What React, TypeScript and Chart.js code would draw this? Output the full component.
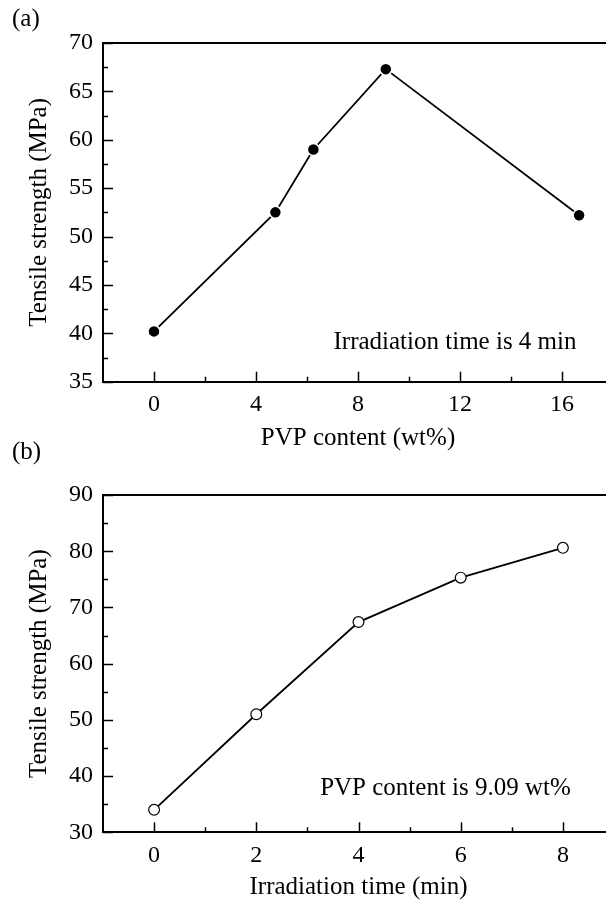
import React, { useEffect, useRef } from "react";
import { Chart, registerables } from "chart.js";

Chart.register(...registerables);

// Panel (a): tensile strength vs PVP content (irradiation 4 min)
const pvpContent = [0, 4.76, 6.25, 9.09, 16.67];
const strengthByPvp = [40.2, 52.5, 59.0, 67.3, 52.2];
// Panel (b): tensile strength vs irradiation time (PVP 9.09 wt%)
const irradiationTime = [0, 2, 4, 6, 8];
const strengthByTime = [34.0, 51.0, 67.4, 75.3, 80.6];

const xMajorA = [0, 4, 8, 12, 16];
const xMinorA = [2, 6, 10, 14];
const yMajorA = [35, 40, 45, 50, 55, 60, 65, 70];
const yMinorA = [37.5, 42.5, 47.5, 52.5, 57.5, 62.5, 67.5];

const xMajorB = [0, 2, 4, 6, 8];
const xMinorB = [1, 3, 5, 7];
const yMajorB = [30, 40, 50, 60, 70, 80, 90];
const yMinorB = [35, 45, 55, 65, 75, 85];

const FONT = '"Liberation Serif", "Times New Roman", serif';

type Panel = {
  xs: number[];
  ys: number[];
  xMin: number;
  xMax: number;
  yMin: number;
  yMax: number;
  xMajor: number[];
  xMinor: number[];
  yMajor: number[];
  yMinor: number[];
  xTitle: string;
  note: string;
  label: string;
  filled: boolean;
  width: number;
  height: number;
  plotTop: number;
  plotBottom: number;
  noteX: number;
  noteY: number;
  labelY: number;
  xTitlePad: number;
};

const framePlugin = {
  id: "frame",
  afterDraw(chart: any, _args: any, opts: any) {
    const { ctx, chartArea: a, scales } = chart;
    const xs = scales.x;
    const ys = scales.y;
    ctx.save();
    ctx.strokeStyle = "#000";
    ctx.lineWidth = 2;
    ctx.beginPath();
    ctx.moveTo(a.left - 1, a.top);
    ctx.lineTo(a.right + 2, a.top);
    ctx.stroke();

    ctx.lineWidth = 1.5;
    const xTick = (vals: number[], len: number) => {
      vals.forEach((v) => {
        const px = Math.round(xs.getPixelForValue(v)) + 0.5;
        ctx.beginPath();
        ctx.moveTo(px, a.bottom);
        ctx.lineTo(px, a.bottom - len);
        ctx.stroke();
      });
    };
    const yTick = (vals: number[], len: number) => {
      vals.forEach((v) => {
        const py = Math.round(ys.getPixelForValue(v)) + 0.5;
        ctx.beginPath();
        ctx.moveTo(a.left, py);
        ctx.lineTo(a.left + len, py);
        ctx.stroke();
      });
    };
    xTick(opts.xMajor, 10);
    xTick(opts.xMinor, 5);
    yTick(opts.yMajor, 10);
    yTick(opts.yMinor, 5);

    ctx.fillStyle = "#000";
    ctx.font = `25px ${FONT}`;
    ctx.textBaseline = "alphabetic";
    ctx.textAlign = "center";
    ctx.fillText(opts.note, opts.noteX, opts.noteY);
    ctx.textAlign = "left";
    ctx.fillText(opts.label, 12, opts.labelY);
    ctx.restore();
  },
};

function PanelChart({ p, top }: { p: Panel; top: number }) {
  const ref = useRef<HTMLCanvasElement | null>(null);
  useEffect(() => {
    if (!ref.current) return;
    const chart = new Chart(ref.current, {
      type: "line",
      data: {
        datasets: [
          {
            data: p.xs.map((x, i) => ({ x, y: p.ys[i] })),
            borderColor: "#000",
            borderWidth: 1.8,
            pointRadius: p.filled ? 6 : 5.4,
            pointBorderWidth: p.filled ? 1.5 : 1.2,
            pointBackgroundColor: p.filled ? "#000" : "#fff",
            pointBorderColor: p.filled ? "#fff" : "#000",
            tension: 0,
            fill: false,
          },
        ],
      },
      options: {
        responsive: false,
        maintainAspectRatio: false,
        animation: false,
        layout: {
          autoPadding: false,
          padding: { top: p.plotTop, left: 0, right: 0, bottom: 0 },
        },
        plugins: {
          legend: { display: false },
          tooltip: { enabled: false },
          frame: {
            xMajor: p.xMajor,
            xMinor: p.xMinor,
            yMajor: p.yMajor,
            yMinor: p.yMinor,
            note: p.note,
            noteX: p.noteX,
            noteY: p.noteY,
            label: p.label,
            labelY: p.labelY,
          },
        } as any,
        scales: {
          x: {
            type: "linear",
            min: p.xMin,
            max: p.xMax,
            afterBuildTicks: (s: any) => {
              s.ticks = p.xMajor.map((v) => ({ value: v }));
            },
            afterFit: (s: any) => {
              s.height = p.height - p.plotBottom;
            },
            grid: { display: false, drawTicks: false },
            border: { display: true, color: "#000", width: 2 },
            ticks: {
              autoSkip: false,
              maxRotation: 0,
              padding: 9,
              color: "#000",
              font: { family: FONT, size: 24 },
              callback: (v: any) => String(v),
            },
            title: {
              display: true,
              text: p.xTitle,
              color: "#000",
              font: { family: FONT, size: 25 },
              padding: { top: 0, bottom: p.xTitlePad },
            },
          },
          y: {
            type: "linear",
            min: p.yMin,
            max: p.yMax,
            afterBuildTicks: (s: any) => {
              s.ticks = p.yMajor.map((v) => ({ value: v }));
            },
            afterFit: (s: any) => {
              s.width = 103;
            },
            grid: { display: false, drawTicks: false },
            border: { display: true, color: "#000", width: 2 },
            ticks: {
              autoSkip: false,
              padding: 10,
              color: "#000",
              font: { family: FONT, size: 24 },
              callback: (v: any) => String(v),
            },
            title: {
              display: true,
              text: "Tensile strength (MPa)",
              color: "#000",
              font: { family: FONT, size: 25 },
              padding: { top: 24, bottom: 0 },
            },
          },
        },
      },
      plugins: [framePlugin as any],
    });
    return () => chart.destroy();
  }, [p]);
  return (
    <canvas
      ref={ref}
      width={p.width}
      height={p.height}
      style={{
        position: "absolute",
        left: 0,
        top,
        width: p.width,
        height: p.height,
        maxWidth: "none",
        display: "block",
      }}
    />
  );
}

const panelA: Panel = {
  xs: pvpContent,
  ys: strengthByPvp,
  xMin: -2,
  xMax: 18,
  yMin: 35,
  yMax: 70,
  xMajor: xMajorA,
  xMinor: xMinorA,
  yMajor: yMajorA,
  yMinor: yMinorA,
  xTitle: "PVP content (wt%)",
  note: "Irradiation time is 4 min",
  label: "(a)",
  filled: true,
  width: 613,
  height: 455,
  plotTop: 43,
  plotBottom: 381.7,
  noteX: 455,
  noteY: 348.5,
  labelY: 26,
  xTitlePad: 2,
};

const panelB: Panel = {
  xs: irradiationTime,
  ys: strengthByTime,
  xMin: -1,
  xMax: 9,
  yMin: 30,
  yMax: 90,
  xMajor: xMajorB,
  xMinor: xMinorB,
  yMajor: yMajorB,
  yMinor: yMinorB,
  xTitle: "Irradiation time (min)",
  note: "PVP content is 9.09 wt%",
  label: "(b)",
  filled: false,
  width: 614,
  height: 472,
  plotTop: 65,
  plotBottom: 402.3,
  noteX: 445.5,
  noteY: 365,
  labelY: 29,
  xTitlePad: 0,
};

export default function App() {
  return (
    <div
      style={{
        position: "fixed",
        left: 0,
        top: 0,
        width: 640,
        height: 901,
        overflow: "hidden",
        background: "#fff",
      }}
    >
      <PanelChart p={panelA} top={0} />
      <PanelChart p={panelB} top={430} />
    </div>
  );
}
